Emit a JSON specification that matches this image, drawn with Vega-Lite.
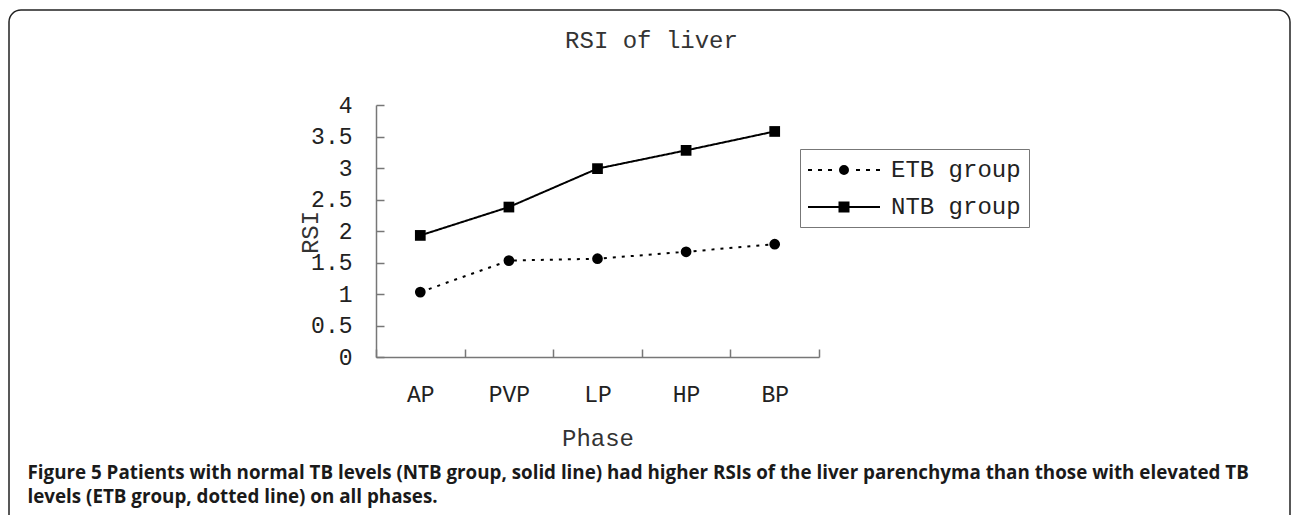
{
  "$schema": "https://vega.github.io/schema/vega-lite/v6.json",
  "width": 1281,
  "height": 517,
  "autosize": {"type": "none"},
  "padding": {"left": 9, "top": 10, "right": 2, "bottom": -12},
  "background": "white",
  "config": {"view": {"stroke": "#222", "strokeWidth": 1.5, "cornerRadius": 12, "fill": "white"}},
  "title": {"text": "RSI of liver", "anchor": "middle", "frame": "group", "orient": "top", "offset": 0, "baseline": "alphabetic", "dy": 62, "dx": 2, "font": "Liberation Mono", "fontSize": 24, "fontWeight": "normal", "color": "#333"},
  "data": {"values": [
    {"phase": "AP", "group": "ETB group", "rsi": 1.03},
    {"phase": "PVP", "group": "ETB group", "rsi": 1.53},
    {"phase": "LP", "group": "ETB group", "rsi": 1.56},
    {"phase": "HP", "group": "ETB group", "rsi": 1.67},
    {"phase": "BP", "group": "ETB group", "rsi": 1.79},
    {"phase": "AP", "group": "NTB group", "rsi": 1.93},
    {"phase": "PVP", "group": "NTB group", "rsi": 2.38},
    {"phase": "LP", "group": "NTB group", "rsi": 2.99},
    {"phase": "HP", "group": "NTB group", "rsi": 3.28},
    {"phase": "BP", "group": "NTB group", "rsi": 3.58}
  ]},
  "layer": [
    {
      "mark": {"type": "line", "color": "black", "strokeWidth": 2},
      "encoding": {
        "x": {"field": "phase", "type": "ordinal", "sort": ["AP", "PVP", "LP", "HP", "BP"], "bandPosition": 0.5,
          "scale": {"type": "band", "range": [367, 810], "paddingInner": 0, "paddingOuter": 0},
          "axis": {"orient": "bottom", "offset": -170, "title": "Phase", "tickBand": "extent", "tickSize": -8, "labelPadding": 45, "labelBaseline": "middle", "labelAngle": 0,
            "labelFont": "Liberation Mono", "labelFontSize": 23, "labelColor": "#222",
            "titleFont": "Liberation Mono", "titleFontSize": 24, "titleFontWeight": "normal", "titleColor": "#333", "titleY": 81, "titleBaseline": "middle",
            "domainColor": "#777", "domainWidth": 1.5, "tickColor": "#777", "tickWidth": 1.5, "grid": false}},
        "y": {"field": "rsi", "type": "quantitative",
          "scale": {"domain": [0, 4], "range": [347, 95], "nice": false},
          "axis": {"orient": "left", "offset": -367, "title": "RSI", "values": [0, 0.5, 1, 1.5, 2, 2.5, 3, 3.5, 4], "format": ".1~f", "tickSize": -8, "labelPadding": 32,
            "labelFont": "Liberation Mono", "labelFontSize": 23, "labelColor": "#222", "labelBaseline": "middle", "labelAlign": "right",
            "titleFont": "Liberation Mono", "titleFontSize": 24, "titleFontWeight": "normal", "titleColor": "#333", "titleX": -66, "titleY": 222, "titleAngle": -90, "titleBaseline": "middle", "titleAlign": "center",
            "domainColor": "#777", "domainWidth": 1.5, "tickColor": "#777", "tickWidth": 1.5, "grid": false}},
        "strokeDash": {"field": "group", "type": "nominal",
          "scale": {"domain": ["ETB group", "NTB group"], "range": [[3, 6], [1, 0]]},
          "legend": null}
      }
    },
    {
      "mark": {"type": "point", "filled": true, "color": "black", "opacity": 1, "size": 115},
      "encoding": {
        "x": {"field": "phase", "type": "ordinal", "sort": ["AP", "PVP", "LP", "HP", "BP"], "bandPosition": 0.5,
          "scale": {"type": "band", "range": [367, 810], "paddingInner": 0, "paddingOuter": 0},
          "axis": {"orient": "top", "offset": 0, "labels": false, "ticks": false, "domain": false, "grid": false,
            "title": ["Figure 5 Patients with normal TB levels (NTB group, solid line) had higher RSIs of the liver parenchyma than those with elevated TB", "levels (ETB group, dotted line) on all phases."],
            "titleX": 18, "titleY": 468, "titleAlign": "left", "titleBaseline": "alphabetic", "titleAngle": 0,
            "titleFont": "Open Sans", "titleFontSize": 18.8, "titleFontWeight": "bold", "titleColor": "#1a1a1a", "titleLineHeight": 24}},
        "y": {"field": "rsi", "type": "quantitative",
          "scale": {"domain": [0, 4], "range": [347, 95], "nice": false},
          "axis": {"orient": "left", "offset": -367, "title": "RSI", "values": [0, 0.5, 1, 1.5, 2, 2.5, 3, 3.5, 4], "format": ".1~f", "tickSize": -8, "labelPadding": 32,
            "labelFont": "Liberation Mono", "labelFontSize": 23, "labelColor": "#222", "labelBaseline": "middle", "labelAlign": "right",
            "titleFont": "Liberation Mono", "titleFontSize": 24, "titleFontWeight": "normal", "titleColor": "#333", "titleX": -66, "titleY": 222, "titleAngle": -90, "titleBaseline": "middle", "titleAlign": "center",
            "domainColor": "#777", "domainWidth": 1.5, "tickColor": "#777", "tickWidth": 1.5, "grid": false}},
        "shape": {"field": "group", "type": "nominal", "scale": {"domain": ["ETB group", "NTB group"], "range": ["circle", "square"]}, "legend": null}
      }
    },
    {
      "transform": [{"filter": "false"}],
      "mark": {"type": "point", "filled": false, "color": "black", "strokeWidth": 2, "opacity": 1},
      "encoding": {
        "shape": {"field": "group", "type": "nominal",
          "scale": {"domain": ["ETB group", "NTB group"], "range": [
            "M-3,0H-2.667M-2.167,0H-1.833M-1.333,0H-1M1,0H1.333M1.833,0H2.167M2.667,0H3M0.333,0A0.333,0.333,0,1,1,-0.333,0A0.333,0.333,0,1,1,0.333,0ZM-0.3,-0.167H0.3M-0.36,0H0.36M-0.3,0.167H0.3M-0.2,-0.25H0.2M-0.2,0.25H0.2",
            "M-3,0H3M-0.375,-0.375H0.375V0.375H-0.375ZM-0.375,-0.167H0.375M-0.375,0.167H0.375M-0.375,-0.25H0.375M-0.375,0.25H0.375"]},
          "legend": {"orient": "none", "legendX": 791, "legendY": 139, "title": null, "direction": "vertical", "strokeColor": "#777", "fillColor": "white", "padding": 8, "rowPadding": 12,
            "symbolSize": 576, "symbolOffset": 23, "labelOffset": 34, "labelFont": "Liberation Mono", "labelFontSize": 24, "labelColor": "#222", "labelBaseline": "middle",
            "symbolStrokeWidth": 2, "symbolStrokeColor": "black", "symbolOpacity": 1}}
      }
    }
  ],
  "resolve": {"axis": {"x": "independent"}, "scale": {"shape": "independent"}}
}
